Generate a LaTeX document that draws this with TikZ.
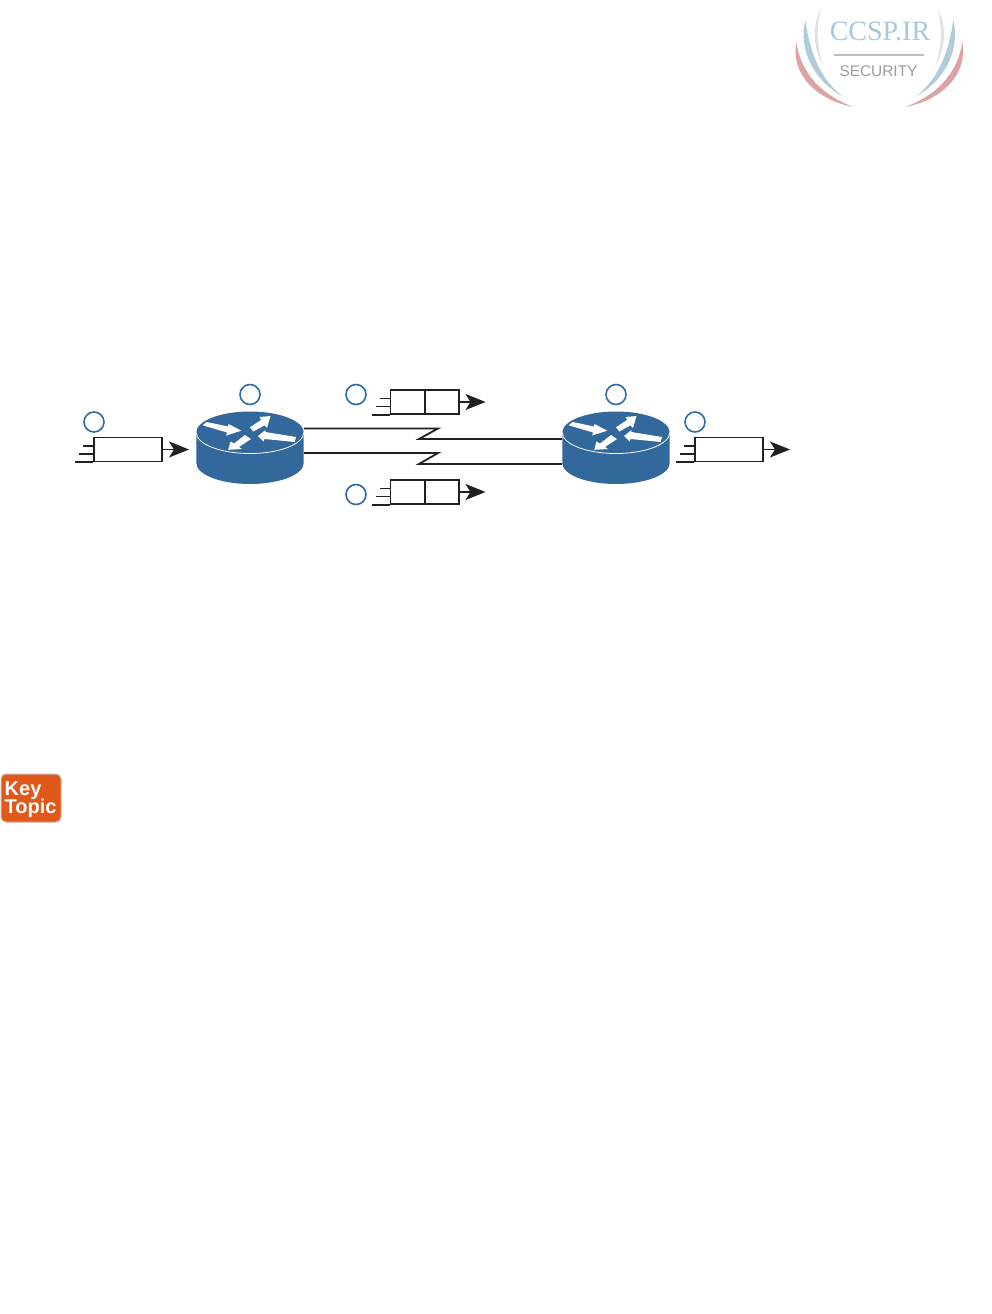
\documentclass[tikz,border=0pt]{standalone}
\usepackage{fontspec}
\setmainfont{Liberation Sans}
\newfontfamily\logoserif{Liberation Serif}
\usetikzlibrary{arrows.meta}
\definecolor{routerblue}{HTML}{33689C}
\definecolor{ringblue}{HTML}{2F6CA3}
\definecolor{ink}{HTML}{231F20}
\definecolor{keyorange}{HTML}{E0591B}
\definecolor{keyedge}{HTML}{C9B5A8}
\definecolor{logoblue}{HTML}{B0CCDA}
\definecolor{logored}{HTML}{DBA3A1}
\definecolor{logogray}{HTML}{E0E0E0}
\definecolor{logotext}{HTML}{A8C8DC}
\definecolor{logosec}{HTML}{9C9C9C}
\tikzset{
  x=1pt,y=-1pt,
  ring/.style={circle,draw=ringblue,line width=1.6pt,minimum size=20pt,inner sep=0pt},
  queuebox/.style={rectangle,draw=ink,line width=1.7pt,fill=white,minimum height=24pt,inner sep=0pt},
  qline/.style={draw=ink,line width=1.8pt},
  qarrow/.style={draw=ink,line width=1.5pt,-{Stealth[length=20pt,width=16pt,inset=5pt]}},
  link/.style={draw=ink,line width=1.8pt,line join=miter},
  routerspot/.style={rectangle,minimum width=107.4pt,minimum height=72pt,inner sep=0pt},
  routerpic/.pic={
    \fill[routerblue] (-53.7,-15.5) -- (-53.7,15)
      .. controls (-53.7,26.6) and (-29.7,36) .. (0,36)
      .. controls (29.7,36) and (53.7,26.6) .. (53.7,15)
      -- (53.7,-15.5)
      .. controls (53.7,-27.1) and (29.7,-36.5) .. (0,-36.5)
      .. controls (-29.7,-36.5) and (-53.7,-27.1) .. (-53.7,-15.5) -- cycle;
    \draw[white,line width=0.8pt] (-53.7,-15.5)
      .. controls (-53.7,-3.9) and (-29.7,5.5) .. (0,5.5)
      .. controls (29.7,5.5) and (53.7,-3.9) .. (53.7,-15.5);
    \fill[white] (-47.3,-22.7) -- (-43.3,-26) -- (-22,-21.5) -- (-21.5,-24) -- (-8.7,-17.3) -- (-23.8,-12.5) -- (-23,-15.5) -- cycle;
    \fill[white] (0,-20.7) -- (11,-28) -- (9.5,-31) -- (20.5,-32) -- (17,-20) -- (14.5,-22.7) -- (3.3,-16.5) -- cycle;
    \fill[white] (46,-11) -- (15.3,-16) -- (15.5,-18) -- (8,-12) -- (13.5,-6.5) -- (14.5,-9) -- (44.7,-6) -- cycle;
    \fill[white] (-5,-13) -- (-16,-4.5) -- (-19.5,-6.5) -- (-21.8,1.8) -- (-8,1) -- (-11,-1) -- (1,-9) -- cycle;
  },
  logoside/.pic={
    \fill[logogray] (-58,9) .. controls (-68,25) and (-66,50) .. (-56,65)
      .. controls (-62,50) and (-64,28) .. (-58,9) -- cycle;
    \fill[logoblue] (-74,20) .. controls (-81,50) and (-66,80) .. (-36,97)
      .. controls (-58,80) and (-69,55) .. (-74,20) -- cycle;
    \fill[logored] (-83,42) .. controls (-89,75) and (-62,100) .. (-26,107)
      .. controls (-55,96) and (-78,76) .. (-83,42) -- cycle;
  }
}
\newcommand{\queuelines}[4]{%
  \draw[qline] ([yshift=3.5pt]#1.west) -- ++(#2,0);
  \draw[qline] ([yshift=-4.5pt]#1.west) -- ++(#3,0);
  \draw[qline] (#1.south west) -- ++(#4,0);
}
\begin{document}
\begin{tikzpicture}
\useasboundingbox (0,0) rectangle (991,1314);
\fill[white] (0,0) rectangle (991,1314);

% logo
\pic at (879.3,0) {logoside};
\pic[xscale=-1] at (879.3,0) {logoside};
\node[anchor=base,inner sep=0pt,text=logotext,font=\logoserif\fontsize{28}{28}\selectfont] (logotitle) at (880,40.5) {CCSP.IR};
\fill[logogray!85!black] (834,54) rectangle (924,56);
\node[anchor=base,inner sep=0pt,text=logosec,font=\fontsize{15.4}{15.4}\selectfont] (logosub) at (878.5,76.5) {SECURITY};

% routers
\node[routerspot] (r1) at (250,448) {};
\node[routerspot] (r2) at (616,448) {};

% links
\draw[link] ([yshift=19.5pt]r1.east) -- (438,428.5) -- (419,439) -- ([yshift=9pt]r2.west);
\draw[link] ([yshift=-5pt]r1.east) -- (438,453) -- (419,464) -- ([yshift=-16pt]r2.west);

\pic at (r1.center) {routerpic};
\pic at (r2.center) {routerpic};

% queues
\node[queuebox,minimum width=68pt] (q1) at (128,449.5) {};
\node[queuebox,minimum width=68.5pt] (q2) at (424.75,402) {};
\node[queuebox,minimum width=68.5pt] (q3) at (424.75,492) {};
\node[queuebox,minimum width=68pt] (q4) at (729,449.5) {};
\draw[qline] (q2.north) -- (q2.south);
\draw[qline] (q3.north) -- (q3.south);
\queuelines{q1}{-10}{-14}{-18}
\queuelines{q2}{-10}{-14}{-18}
\queuelines{q3}{-10}{-14}{-18}
\queuelines{q4}{-10}{-14}{-18}

\coordinate (t1) at (189,449.5);
\coordinate (t2) at (485.5,402);
\coordinate (t3) at (485.5,492);
\coordinate (t4) at (790,449.5);
\draw[qarrow] (q1.east) -- (t1);
\draw[qarrow] (q2.east) -- (t2);
\draw[qarrow] (q3.east) -- (t3);
\draw[qarrow] (q4.east) -- (t4);

% numbered rings
\node[ring] (c1) at (94,422) {};
\node[ring] (c2) at (250,394.5) {};
\node[ring] (c3) at (356,394.5) {};
\node[ring] (c4) at (356,494.5) {};
\node[ring] (c5) at (616,394.5) {};
\node[ring] (c6) at (695,422) {};

% key topic
\node[rectangle,rounded corners=5pt,fill=keyorange,draw=keyedge,line width=1pt,minimum width=60pt,minimum height=48pt,inner sep=0pt] (key) at (31,798) {};
\node[anchor=base west,inner sep=0pt,text=white,font=\bfseries\fontsize{20}{20}\selectfont] (keya) at (4.5,795) {Key};
\node[anchor=base west,inner sep=0pt,text=white,font=\bfseries\fontsize{20}{20}\selectfont] (keyb) at (4.5,813) {Topic};
\end{tikzpicture}
\end{document}
